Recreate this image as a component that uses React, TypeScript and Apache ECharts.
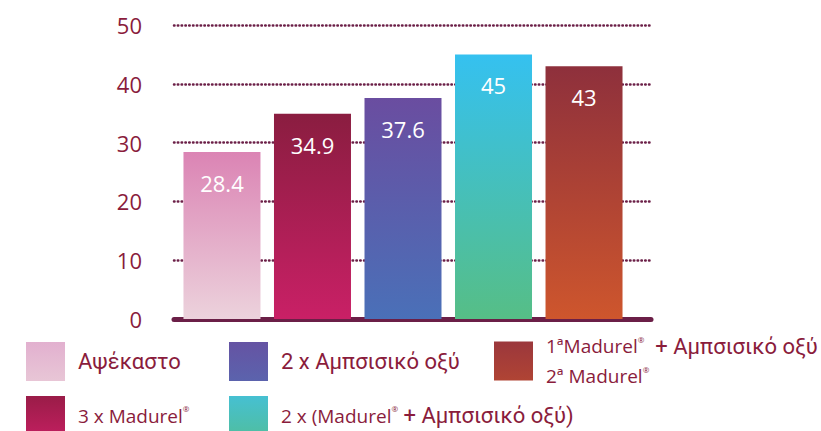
import React, { useEffect, useRef } from "react";
import * as echarts from "echarts";

const categories = [
  "Αψέκαστο",
  "3 x Madurel®",
  "2 x Αμπσισικό οξύ",
  "2 x (Madurel® + Αμπσισικό οξύ)",
  "1ªMadurel® + Αμπσισικό οξύ / 2ª Madurel®",
];
const values = [28.4, 34.9, 37.6, 45, 43];
const gradientTop = ["#db84b4", "#8a1d40", "#6a4da0", "#35c1f0", "#8e303c"];
const gradientBottom = ["#ecd2dc", "#c92066", "#4a70b8", "#56be86", "#ce562d"];
const swatchTop = ["#e2b0cf", "#9a1c48", "#6553a3", "#46c0d2", "#9b373c"];
const swatchBottom = ["#e8c6d6", "#bf1f5e", "#5b63ad", "#4fbea2", "#b04434"];
const legendRich = [
  "{c|Αψέκαστο}",
  "{r|3 x Madurel}{s|®}",
  "{c|2 x Αμπσισικό οξύ}",
  "{r|2 x (Madurel}{s|®}{c| + Αμπσισικό οξύ)}",
  "{r|1ªMadurel}{s|®}{c|  + Αμπσισικό οξύ}\n{r|2ª Madurel}{s|®}",
];
const yMin = 0;
const yMax = 50;
const yInterval = 10;

const TEXT = "#8a1c3c";
const LINE = "#6b1f47";

export default function App() {
  const ref = useRef<HTMLDivElement>(null);
  useEffect(() => {
    if (!ref.current) return;
    const chart = echarts.init(ref.current, null, { renderer: "svg" });
    const rich = {
      c: {
        fontFamily: "Roboto, sans-serif",
        fontSize: 22,
        color: TEXT,
        lineHeight: 30,
      },
      r: {
        fontFamily: "'Open Sans', sans-serif",
        fontSize: 19,
        color: TEXT,
        lineHeight: 30,
      },
      s: {
        fontFamily: "'Open Sans', sans-serif",
        fontSize: 8,
        color: TEXT,
        verticalAlign: "middle",
        lineHeight: 10,
        padding: [0, 0, 14, 0],
      },
    };
    const legendPos = [
      { left: 26, top: 342 },
      { left: 26, top: 396 },
      { left: 229, top: 342 },
      { left: 229, top: 396 },
      { left: 494, top: 335 },
    ];
    const legends = categories.map((name, i) => ({
      data: [
        {
          name,
          itemStyle: {
            color: new echarts.graphic.LinearGradient(0, 0, 0, 1, [
              { offset: 0, color: swatchTop[i] },
              { offset: 1, color: swatchBottom[i] },
            ]),
          },
        },
      ],
      left: legendPos[i].left,
      top: legendPos[i].top,
      padding: 0,
      icon: "rect",
      itemWidth: 39,
      itemHeight: 39,
      selectedMode: false,
      formatter: () => legendRich[i],
      textStyle: { rich, padding: [0, 0, 0, 8] },
    }));
    chart.setOption({
      animation: false,
      grid: { left: 174, right: 170, top: 25, bottom: 112 },
      legend: legends,
      xAxis: {
        type: "value",
        min: -0.53,
        max: 4.74,
        axisLabel: { show: false },
        axisTick: { show: false },
        splitLine: { show: false },
        axisLine: { show: true, lineStyle: { color: LINE, width: 5, cap: "round" } },
      },
      yAxis: {
        type: "value",
        min: yMin,
        max: yMax,
        interval: yInterval,
        axisLine: { show: false },
        axisTick: { show: false },
        axisLabel: {
          color: TEXT,
          fontSize: 22,
          fontFamily: "'Open Sans', sans-serif",
          margin: 32,
        },
        splitLine: {
          lineStyle: { color: LINE, width: 2.5, type: [0.5, 3.3], cap: "round" },
        },
      },
      series: categories.map((name, i) => ({
        name,
        type: "bar",
        stack: "all",
        barWidth: 77,
        data: [[i, values[i]]],
        itemStyle: {
          color: new echarts.graphic.LinearGradient(0, 0, 0, 1, [
            { offset: 0, color: gradientTop[i] },
            { offset: 1, color: gradientBottom[i] },
          ]),
        },
        label: {
          show: true,
          position: "insideTop",
          distance: 20,
          color: "#ffffff",
          fontSize: 22,
          fontFamily: "'Open Sans', sans-serif",
          formatter: (p: any) => String(p.value[1]),
        },
      })),
    });
    return () => chart.dispose();
  }, []);
  return <div ref={ref} style={{ width: 821, height: 431, position: "absolute", left: 0, top: 0 }} />;
}
